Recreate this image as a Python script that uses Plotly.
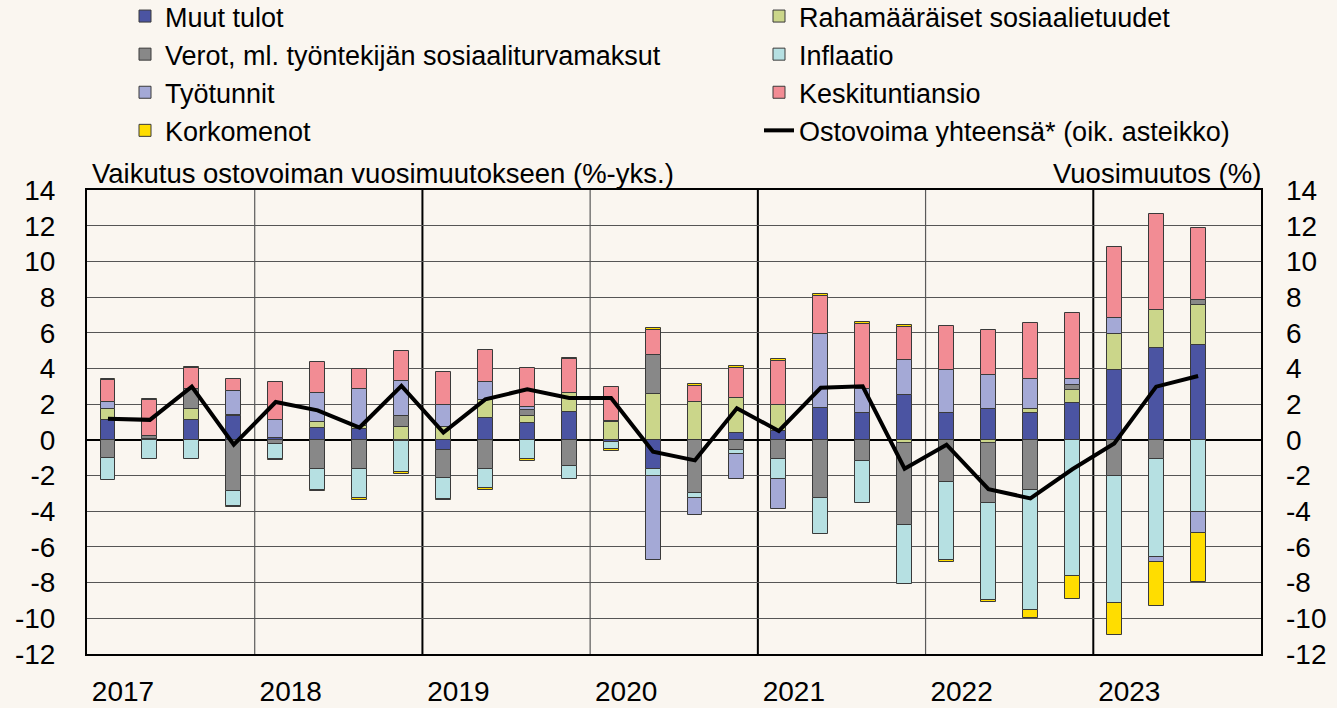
import plotly.graph_objects as go

quarters = ["2017Q1", "2017Q2", "2017Q3", "2017Q4",
            "2018Q1", "2018Q2", "2018Q3", "2018Q4",
            "2019Q1", "2019Q2", "2019Q3", "2019Q4",
            "2020Q1", "2020Q2", "2020Q3", "2020Q4",
            "2021Q1", "2021Q2", "2021Q3", "2021Q4",
            "2022Q1", "2022Q2", "2022Q3", "2022Q4",
            "2023Q1", "2023Q2", "2023Q3"]
years = [2017, 2018, 2019, 2020, 2021, 2022, 2023]
y_ticks = [14, 12, 10, 8, 6, 4, 2, 0, -2, -4, -6, -8, -10, -12]

muut_tulot = [1.12, 0.07, 1.12, 1.35, 0.13, 0.69, 0.63, -0.05, -0.56, 1.25, 0.93, 1.56, -0.10, -1.64,
              0.0, 0.41, 0.50, 1.81, 1.53, 2.50, 1.49, 1.75, 1.49, 2.05, 3.89, 5.12, 5.29]
rahamaaraiset = [0.63, 0.0, 0.63, 0.05, 0.0, 0.33, 0.15, 0.74, 0.74, 0.97, 0.41, 1.08, 1.00, 2.55,
                 2.14, 1.95, 1.47, 0.0, 0.0, -0.20, 0.0, -0.20, 0.26, 0.74, 2.05, 2.14, 2.29]
verot = [-1.00, 0.15, 1.08, -2.89, -0.25, -1.64, -1.64, 0.60, -1.58, -1.64, 0.34, -1.49, 0.06, 2.18,
         -2.98, -0.56, -1.08, -3.28, -1.17, -4.57, -2.38, -3.34, -2.79, 0.26, -2.05, -1.08, 0.24]
inflaatio = [-1.23, -1.08, -1.08, -0.83, -0.80, -1.15, -1.64, -1.73, -1.17, -1.08, -1.08, -0.70, -0.40, -0.41,
             -0.30, -0.24, -1.12, -1.99, -2.37, -3.30, -4.38, -5.46, -6.76, -7.65, -7.09, -5.49, -4.06]
tyotunnit = [0.39, 0.0, 0.0, 1.34, 0.97, 1.62, 2.05, 1.96, 1.23, 1.02, 0.18, 0.0, 0.0, -4.71,
             -0.93, -1.42, -1.67, 4.13, 1.34, 1.97, 2.40, 1.88, 1.64, 0.34, 0.89, -0.28, -1.15]
keskituntiansio = [1.21, 2.00, 1.21, 0.65, 2.14, 1.74, 1.15, 1.67, 1.85, 1.79, 2.16, 1.90, 1.92, 1.43,
                   0.88, 1.68, 2.44, 2.14, 3.63, 1.86, 2.48, 2.55, 3.13, 3.72, 3.97, 5.38, 4.04]
korkomenot = [0.05, 0.08, 0.07, -0.07, -0.08, -0.10, -0.09, -0.13, -0.08, -0.07, -0.09, 0.06, -0.12, 0.10,
              0.10, 0.09, 0.12, 0.10, 0.11, 0.11, -0.09, -0.09, -0.41, -1.25, -1.81, -2.46, -2.76]
ostovoima = [1.18, 1.12, 2.98, -0.27, 2.12, 1.65, 0.69, 3.02, 0.41, 2.27, 2.83, 2.35, 2.35, -0.66,
             -1.15, 1.77, 0.50, 2.92, 3.00, -1.62, -0.27, -2.76, -3.28, -1.65, -0.20, 2.98, 3.58]

x = [int(q[:4]) + (int(q[-1]) - 0.5) / 4 for q in quarters]

FONT = "Liberation Sans, Arial, sans-serif"
BG = "#FAF6F0"
W, H = 1337, 708
ML, MR, MT, MB = 87, 76, 190, 54
plot_w = W - ML - MR
plot_h = H - MT - MB

bar_series = [
    ("Muut tulot", muut_tulot, "#4B54A2", "legend"),
    ("Rahamääräiset sosiaalietuudet", rahamaaraiset, "#CBD68A", "legend2"),
    ("Verot, ml. työntekijän sosiaaliturvamaksut", verot, "#888888", "legend"),
    ("Inflaatio", inflaatio, "#B6E0E2", "legend2"),
    ("Työtunnit", tyotunnit, "#A4A9D6", "legend"),
    ("Keskituntiansio", keskituntiansio, "#F28C94", "legend2"),
    ("Korkomenot", korkomenot, "#FFDD00", "legend"),
]

fig = go.Figure()
for name, vals, color, leg in bar_series:
    fig.add_trace(go.Bar(
        x=x, y=vals, name=name, width=0.089,
        marker=dict(color=color, line=dict(color="#3a3a3a", width=1)),
        legend=leg,
    ))

fig.add_trace(go.Scatter(
    x=x, y=ostovoima, name="Ostovoima yhteensä* (oik. asteikko)",
    mode="lines", line=dict(color="black", width=4), yaxis="y2", legend="legend2",
))

shapes = []
for yr in years[1:]:
    odd = yr % 2 == 1
    shapes.append(dict(type="line", xref="x", yref="paper", x0=yr, x1=yr, y0=0, y1=1,
                       line=dict(color="black" if odd else "#5a5a5a", width=2 if odd else 1.2),
                       layer="below"))

tick_text = [str(v) for v in y_ticks]
leg_y = 1 + (MT + 8) / plot_h
LEG_FONT = dict(size=27, family=FONT, color="black")

fig.update_layout(
    width=W, height=H,
    margin=dict(l=ML, r=MR, t=MT, b=MB, autoexpand=False),
    paper_bgcolor=BG, plot_bgcolor=BG,
    barmode="relative",
    bargap=0,
    font=dict(family=FONT, color="black", size=24),
    shapes=shapes,
    xaxis=dict(
        range=[2017, 2024], tickvals=years, ticktext=[str(y) for y in years],
        showgrid=False, zeroline=False, ticks="",
        showline=True, linecolor="black", linewidth=2, mirror=True,
        tickfont=dict(size=28, family=FONT, color="black"),
        ticklabelshift=36, ticklabelstandoff=11,
    ),
    yaxis=dict(
        range=[-12, 14], tickvals=y_ticks, ticktext=tick_text,
        showgrid=True, gridcolor="#555555", gridwidth=1.3,
        zeroline=True, zerolinecolor="black", zerolinewidth=2,
        showline=True, linecolor="black", linewidth=2, mirror=True,
        ticks="", tickfont=dict(size=28, family=FONT, color="black"),
        ticklabelstandoff=24,
    ),
    yaxis2=dict(
        range=[-12, 14], tickvals=y_ticks, ticktext=tick_text,
        overlaying="y", side="right",
        showgrid=False, zeroline=False, ticks="",
        tickfont=dict(size=28, family=FONT, color="black"),
        ticklabelstandoff=24,
    ),
    legend=dict(
        orientation="v", traceorder="normal",
        x=(125 - ML) / plot_w, xanchor="left", y=leg_y, yanchor="top",
        bgcolor="rgba(0,0,0,0)", font=LEG_FONT,
    ),
    legend2=dict(
        orientation="v", traceorder="normal",
        x=(759 - ML) / plot_w, xanchor="left", y=leg_y, yanchor="top",
        bgcolor="rgba(0,0,0,0)", font=LEG_FONT,
    ),
    annotations=[
        dict(text="Vaikutus ostovoiman vuosimuutokseen (%-yks.)", xref="paper", yref="paper",
             x=(90 - ML) / plot_w, y=1 + (MT - 173) / plot_h, xanchor="left", yanchor="middle",
             showarrow=False, font=dict(size=27.5, family=FONT, color="black")),
        dict(text="Vuosimuutos (%)", xref="paper", yref="paper",
             x=(1263 - ML) / plot_w, y=1 + (MT - 173) / plot_h, xanchor="right", yanchor="middle",
             showarrow=False, font=dict(size=27.5, family=FONT, color="black")),
    ],
    showlegend=True,
)

fig.write_html("out.html", config={"displayModeBar": False},
               post_script="document.body.style.margin='0';")
